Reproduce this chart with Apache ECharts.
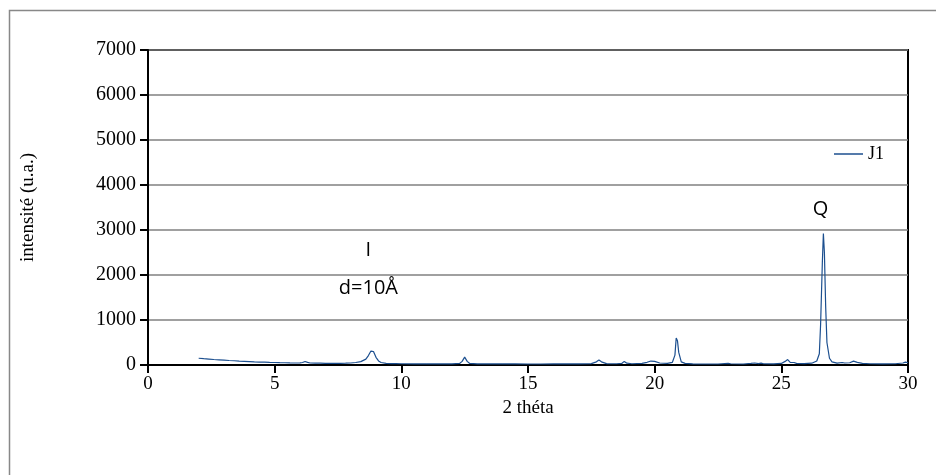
<!DOCTYPE html>
<html>
<head>
<meta charset="utf-8">
<script src="https://cdn.jsdelivr.net/npm/echarts@6/dist/echarts.min.js"></script>
<style>html,body{margin:0;padding:0;background:#fff}#c{width:936px;height:475px}</style>
</head>
<body>
<div id="c"></div>
<script>
var twoTheta = [2.0,2.2,2.4,2.6,2.8,3.0,3.2,3.4,3.6,3.8,4.0,4.2,4.4,4.6,4.8,5.0,5.2,5.4,5.6,5.8,6.0,6.1,6.2,6.3,6.4,6.6,6.8,7.0,7.2,7.4,7.6,7.8,8.0,8.2,8.4,8.6,8.7,8.8,8.85,8.9,9.0,9.1,9.2,9.4,9.6,9.8,10.0,10.5,11.0,11.5,12.0,12.3,12.4,12.5,12.6,12.7,13.0,13.5,14.0,14.5,15.0,15.5,16.0,16.5,17.0,17.5,17.7,17.8,17.9,18.1,18.5,18.7,18.8,18.9,19.1,19.5,19.7,19.85,20.0,20.2,20.5,20.7,20.8,20.85,20.9,20.95,21.05,21.2,21.5,22.0,22.5,22.9,23.0,23.5,23.8,23.95,24.1,24.2,24.3,24.7,25.0,25.15,25.25,25.35,25.5,25.6,25.9,26.2,26.4,26.5,26.55,26.62,26.66,26.7,26.75,26.8,26.9,27.0,27.2,27.4,27.5,27.7,27.85,28.0,28.2,28.5,29.0,29.5,29.8,29.9,30.0];
var intensity = [150,140,132,122,115,108,100,95,88,82,76,70,66,62,58,55,52,50,47,45,46,55,78,58,44,42,40,38,38,37,38,40,45,55,75,130,210,310,335,300,170,90,55,38,32,30,28,26,25,25,26,35,80,175,80,35,25,24,23,23,22,22,23,23,25,30,70,110,70,30,28,35,80,40,28,35,60,88,80,45,35,60,220,600,540,280,70,35,25,22,22,35,28,22,35,45,32,40,28,25,35,80,120,60,55,35,30,40,90,250,900,2300,2920,2500,1300,500,150,70,40,55,45,50,85,60,35,28,25,28,45,65,50];
var seriesName = 'J1';
var xTicks = [0,5,10,15,20,25,30];
var yTicks = [0,1000,2000,3000,4000,5000,6000,7000];

var data = twoTheta.map(function(x,i){return [x, intensity[i]];});
var chart = echarts.init(document.getElementById('c'), null, {renderer:'canvas'});
var serif = '"Liberation Serif","Times New Roman",serif';
var sans = '"Open Sans","Liberation Sans",sans-serif';
chart.setOption({
  animation:false,
  backgroundColor:'#fff',
  grid:{left:148,right:28,top:50,bottom:110,show:true,borderColor:'#000',borderWidth:2,backgroundColor:'transparent'},
  legend:{show:true,left:829,top:140,itemWidth:29,itemHeight:1.5,itemGap:5,icon:'rect',
    textStyle:{fontFamily:serif,fontSize:18,color:'#000'},data:[{name:seriesName,itemStyle:{color:'#1c4f8f'}}]},
  xAxis:{type:'value',min:xTicks[0],max:xTicks[xTicks.length-1],interval:5,
    name:'2 théta',nameLocation:'middle',nameGap:33,
    nameTextStyle:{fontFamily:serif,fontSize:19,color:'#000'},
    axisLine:{lineStyle:{color:'#000',width:2}},
    axisTick:{show:true,length:8,inside:false,lineStyle:{color:'#000',width:2}},
    axisLabel:{fontFamily:serif,fontSize:19,color:'#000',margin:10},
    splitLine:{show:false}},
  yAxis:{type:'value',min:yTicks[0],max:yTicks[yTicks.length-1],interval:1000,
    name:'intensité (u.a.)',nameLocation:'middle',nameGap:110,nameRotate:90,
    nameTextStyle:{fontFamily:serif,fontSize:19,color:'#000'},
    axisLine:{lineStyle:{color:'#000',width:2}},
    axisTick:{show:true,length:8,lineStyle:{color:'#000',width:2}},
    axisLabel:{fontFamily:serif,fontSize:20,color:'#000',margin:12,formatter:function(v){return String(v);}},
    splitLine:{show:true,lineStyle:{color:'#808080',width:1.5}}},
  series:[{name:seriesName,type:'line',data:data,showSymbol:false,symbol:'none',
    lineStyle:{color:'#1c4f8f',width:1.2},itemStyle:{color:'#1c4f8f'},
    markPoint:{symbol:'rect',symbolSize:0,silent:true,
      label:{show:true,fontFamily:sans,fontSize:20,color:'#000'},
      data:[
        {coord:[8.7,2550],value:'I'},
        {coord:[8.7,1700],value:'d=10Å'},
        {coord:[26.55,3450],value:'Q'}
      ]}
  }],
  graphic:[{type:'rect',left:7,top:8,shape:{x:0,y:0,width:960,height:500},
    style:{fill:'none',stroke:'#888',lineWidth:1.5},silent:true}]
});
</script>
</body>
</html>
